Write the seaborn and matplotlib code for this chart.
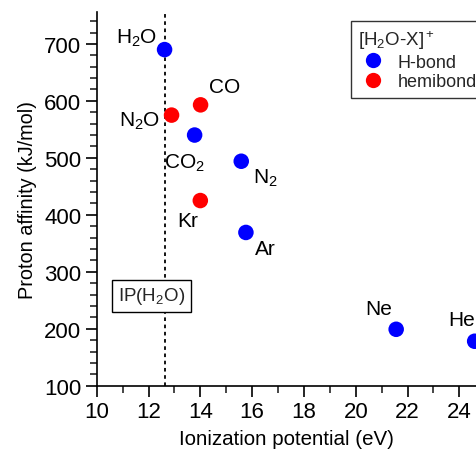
import matplotlib
matplotlib.use("Agg")
import matplotlib.pyplot as plt
import seaborn as sns
import pandas as pd
from matplotlib.ticker import MultipleLocator
from matplotlib.lines import Line2D

sns.set_theme(style="white")
plt.rcParams['font.family'] = ['Liberation Sans', 'DejaVu Sans']
plt.rcParams['mathtext.fontset'] = 'custom'
plt.rcParams['mathtext.rm'] = 'Liberation Sans'
plt.rcParams['mathtext.it'] = 'Liberation Sans'

# Data
species = ['H$_2$O', 'CO', 'N$_2$O', 'CO$_2$', 'N$_2$', 'Kr', 'Ar', 'Ne', 'He']
ionization = [12.62, 14.01, 12.89, 13.78, 15.58, 14.0, 15.76, 21.56, 24.59]
affinity = [690, 593, 575, 540, 494, 425, 369, 199, 178]
bond_type = ['H-bond', 'hemibond', 'hemibond', 'H-bond', 'H-bond', 'hemibond', 'H-bond', 'H-bond', 'H-bond']
label_x = [11.55, 14.95, 11.65, 13.4, 16.5, 13.5, 16.5, 20.9, 24.1]
label_y = [712, 626, 565, 492, 466, 390, 340, 236, 217]
ip_h2o = 12.62

df = pd.DataFrame({'IP': ionization, 'PA': affinity, 'type': bond_type})
palette = {'H-bond': '#0000ff', 'hemibond': '#ff0000'}

fig = plt.figure(figsize=(4.77, 4.56), dpi=100)
ax = fig.add_axes([0.2027, 0.152, 0.7973, 0.8195])

ax.axvline(ip_h2o, color='black', linestyle=(0, (2, 2)), linewidth=1.3, zorder=1)

sns.scatterplot(data=df, x='IP', y='PA', hue='type', palette=palette, s=125,
                edgecolor='none', ax=ax, legend=False, zorder=3, clip_on=False)

for name, lx, ly in zip(species, label_x, label_y):
    ax.text(lx, ly, name, fontsize=15, ha='center', va='center', color='black')

ax.text(12.12, 258, 'IP(H$_2$O)', fontsize=13.5, ha='center', va='center',
        bbox=dict(boxstyle='square,pad=0.3', facecolor='white', edgecolor='black', linewidth=1))

ax.set_xlim(10, 24.68)
ax.set_ylim(100, 756)
ax.xaxis.set_major_locator(MultipleLocator(2))
ax.xaxis.set_minor_locator(MultipleLocator(1))
ax.yaxis.set_major_locator(MultipleLocator(100))
ax.yaxis.set_minor_locator(MultipleLocator(20))
ax.set_yticks(range(100, 800, 100))
ax.tick_params(axis='both', which='major', direction='out', length=8, width=1.2,
               labelsize=16, colors='black', bottom=True, left=True, pad=3)
ax.tick_params(axis='both', which='minor', direction='out', length=5, width=1.2,
               bottom=True, left=True)
ax.set_xlabel('Ionization potential (eV)', fontsize=14.8, color='black', labelpad=5)
ax.set_ylabel('Proton affinity (kJ/mol)', fontsize=14.3, color='black', labelpad=5)

for sp in ['top', 'right']:
    ax.spines[sp].set_visible(False)
for sp in ['left', 'bottom']:
    ax.spines[sp].set_color('black')
    ax.spines[sp].set_linewidth(1.2)

handles = [Line2D([], [], marker='o', linestyle='none', markersize=11,
                  markerfacecolor=palette[k], markeredgecolor='none') for k in ['H-bond', 'hemibond']]
leg = ax.legend(handles, ['H-bond', 'hemibond'], title='[H$_2$O-X]$^+$', loc='upper left',
                bbox_to_anchor=(351 / 477, 1 - 22 / 456), bbox_transform=fig.transFigure,
                borderaxespad=0, fontsize=13, title_fontsize=13.5,
                frameon=True, fancybox=False, edgecolor='black', handletextpad=0.6,
                borderpad=0.4, labelspacing=0.15, handlelength=1.6)
leg.get_frame().set_linewidth(1.0)
leg._legend_box.align = 'left'

fig.savefig('out.png', dpi=100)
